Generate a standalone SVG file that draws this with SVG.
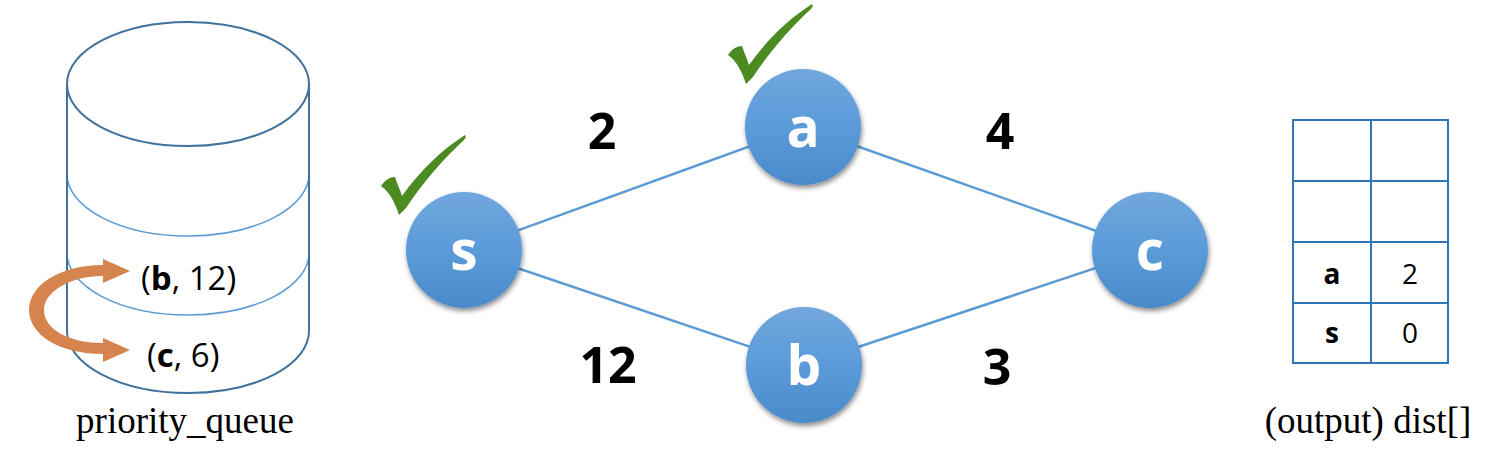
<svg xmlns="http://www.w3.org/2000/svg" xmlns:xlink="http://www.w3.org/1999/xlink" width="1498" height="467" viewBox="0 0 1498 467">
<style>
.cyl{fill:none;stroke:#41719c;stroke-width:2}
.band{fill:none;stroke:#5b9bd5;stroke-width:1.5}
.edge{stroke:#5b9bd5;stroke-width:2.5;fill:none}
.node{fill:url(#ng);filter:url(#sh)}
.nl{font-family:"Open Sans","Noto Sans",sans-serif;font-weight:bold;font-size:55px;fill:#fff;text-anchor:middle}
.el{font-family:"Open Sans","Noto Sans",sans-serif;font-weight:bold;font-size:50px;fill:#000;text-anchor:middle}
.qt{font-family:"Open Sans","Noto Sans",sans-serif;font-size:33px;fill:#000}
.tt{font-family:"Open Sans","Noto Sans",sans-serif;font-size:28px;fill:#000;text-anchor:middle}
.cap{font-family:"Liberation Serif","Times New Roman",serif;font-size:37px;fill:#000}
.grid{fill:none;stroke:#2e75b6;stroke-width:2}
.chk{fill:#4c8a22}
</style>
<defs>
<linearGradient id="ng" x1="0" y1="0" x2="0" y2="1">
<stop offset="0" stop-color="#71a7dd"/>
<stop offset="0.5" stop-color="#5b9bd9"/>
<stop offset="1" stop-color="#4a8aca"/>
</linearGradient>
<filter id="sh" x="-30%" y="-30%" width="160%" height="160%">
<feDropShadow dx="1" dy="3" stdDeviation="2.5" flood-color="#000" flood-opacity="0.45"/>
</filter>
<path id="check" d="M381,186 C385,180 390,177 395,177 C397,183 400,190 402,196 C420,171 440,151 465,135 C466,136 466,138 464,140 C442,160 422,184 406,208 L399,215 C395,203 390,192 381,186 Z"/>
</defs>

<g id="priority_queue">
<path class="band" d="M67,166 L67,174 A121,62 0 0 0 309,174 L309,166"/>
<path class="band" d="M67,245 L67,253 A121,62 0 0 0 309,253 L309,245"/>
<ellipse class="cyl" cx="188" cy="84" rx="121" ry="62"/>
<path class="cyl" d="M67,84 L67,331 A121,62 0 0 0 309,331 L309,84"/>
<path fill="#d5844e" d="M103,265 C60,265 29,285 29,310 C29,335 60,354 103,354 L103,362 L130,350 L103,338 L103,343 C70,343 44,330 44,310 C44,292 70,276 103,276 L103,283 L130,271 L103,259 Z"/>
<text class="qt" x="141" y="290">(<tspan font-weight="bold">b</tspan>, 12)</text>
<text class="qt" x="147" y="367">(<tspan font-weight="bold">c</tspan>, 6)</text>
<text class="cap" x="185" y="433" text-anchor="middle">priority_queue</text>
</g>

<g id="connectors">
<line class="edge" x1="464" y1="250" x2="803" y2="127"/>
<line class="edge" x1="464" y1="250" x2="804" y2="365"/>
<line class="edge" x1="803" y1="127" x2="1150" y2="250"/>
<line class="edge" x1="804" y1="365" x2="1150" y2="250"/>
<text class="el" x="602" y="149">2</text>
<text class="el" x="1000" y="149">4</text>
<text class="el" x="608" y="383">12</text>
<text class="el" x="997" y="385">3</text>
</g>

<g id="node-s">
<circle class="node" cx="464" cy="250" r="58"/>
<text class="nl" x="464" y="270">s</text>
<use xlink:href="#check" class="chk"/>
</g>
<g id="node-a">
<circle class="node" cx="803" cy="127" r="58"/>
<text class="nl" x="803" y="147">a</text>
<use xlink:href="#check" class="chk" transform="translate(347,-131)"/>
</g>
<g id="node-b">
<circle class="node" cx="804" cy="365" r="58"/>
<text class="nl" x="804" y="385">b</text>
</g>
<g id="node-c">
<circle class="node" cx="1150" cy="250" r="58"/>
<text class="nl" x="1150" y="270">c</text>
</g>

<g id="dist">
<rect class="grid" x="1293" y="120" width="155" height="243"/>
<line class="grid" x1="1371" y1="120" x2="1371" y2="363"/>
<line class="grid" x1="1293" y1="181" x2="1448" y2="181"/>
<line class="grid" x1="1293" y1="242" x2="1448" y2="242"/>
<line class="grid" x1="1293" y1="303" x2="1448" y2="303"/>
<text class="tt" x="1332" y="284" font-weight="bold">a</text>
<text class="tt" x="1410" y="284">2</text>
<text class="tt" x="1332" y="343" font-weight="bold">s</text>
<text class="tt" x="1410" y="343">0</text>
<text class="cap" x="1368" y="433" text-anchor="middle">(output) dist[]</text>
</g>
</svg>
